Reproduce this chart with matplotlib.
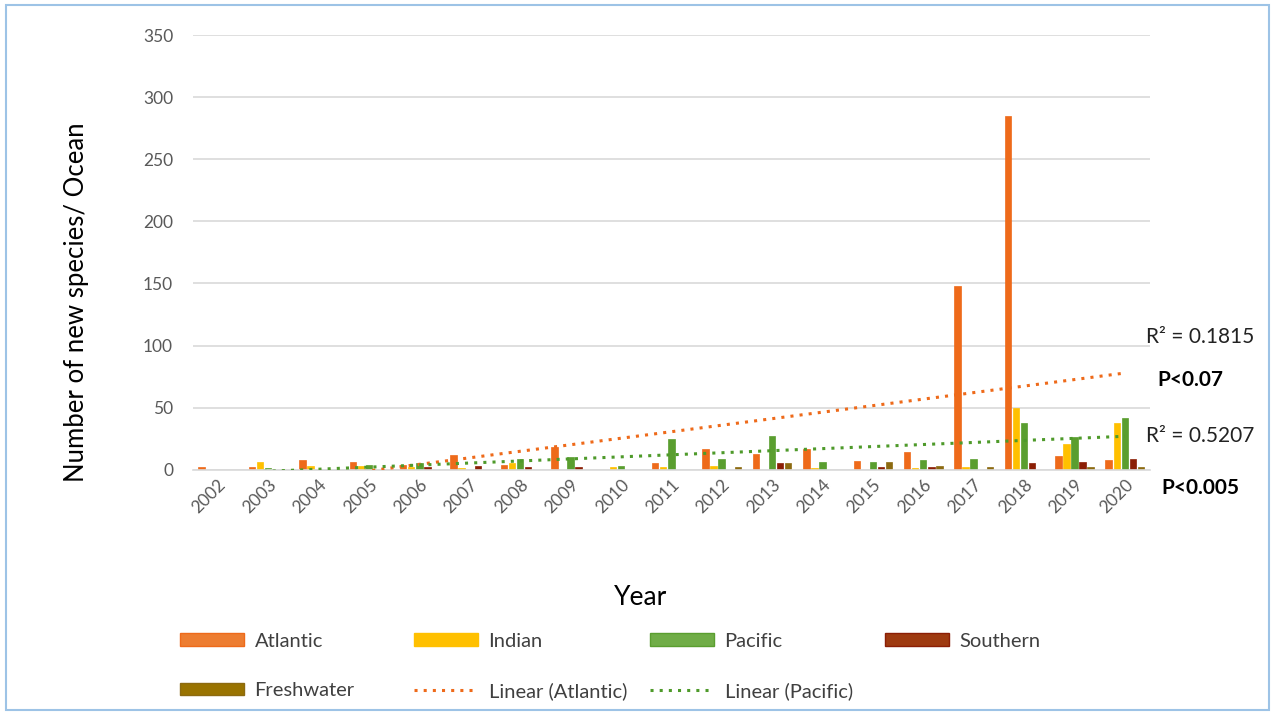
import matplotlib.pyplot as plt
import numpy as np
from matplotlib.patches import Rectangle

plt.rcParams['font.family'] = ['Lato', 'DejaVu Sans']

years = list(range(2002, 2021))
atlantic = [2, 2, 8, 6, 4, 12, 4, 18, 0, 5, 17, 13, 17, 7, 14, 148, 285, 11, 8]
indian = [0, 6, 3, 3, 2, 1, 5, 0, 2, 2, 3, 0, 1, 0, 1, 2, 50, 21, 38]
pacific = [0, 1, 0, 4, 5, 0, 9, 10, 3, 25, 9, 27, 6, 6, 8, 9, 38, 26, 42]
southern = [0, 0, 0, 0, 2, 3, 2, 2, 0, 0, 0, 5, 0, 2, 2, 0, 5, 6, 9]
freshwater = [0, 0, 0, 0, 0, 0, 0, 0, 0, 0, 2, 5, 0, 6, 3, 2, 0, 2, 2]

series = [('Atlantic', atlantic, '#EE6A1A', '#ED7D31'),
          ('Indian', indian, '#FFC000', '#FFC000'),
          ('Pacific', pacific, '#5A9E2F', '#70AD47'),
          ('Southern', southern, '#8B1E05', '#9E3A10'),
          ('Freshwater', freshwater, '#8C6A10', '#997300')]

fig = plt.figure(figsize=(12.75, 7.16), dpi=100)
ax = fig.add_axes([0.151, 0.344, 0.751, 0.607])

x = np.arange(len(years))
w = 0.16
handles = {}
for i, (name, vals, col, lcol) in enumerate(series):
    ax.bar(x + (i - 2) * w, vals, width=w * 0.8, color=col, edgecolor=col, linewidth=0.5, zorder=2)
    handles[name] = Rectangle((0, 0), 1, 1, facecolor=lcol, edgecolor=col)

# linear trend lines
xs = x + 1
ka, ba = np.polyfit(xs, atlantic, 1)
kp, bp = np.polyfit(xs, pacific, 1)
la, = ax.plot(x, ka * xs + ba, ls=(0, (1, 2)), lw=2.2, color='#EE6A1A', zorder=3)
lp, = ax.plot(x, kp * xs + bp, ls=(0, (1, 2)), lw=2.2, color='#4E9A2A', zorder=3)

ax.set_ylim(0, 350)
ax.set_xlim(-0.5, len(years) - 0.5)
ax.set_yticks(range(0, 351, 50))
ax.grid(axis='y', color='#D9D9D9', lw=1.2, zorder=0)
ax.set_axisbelow(True)
for s in ['top', 'right', 'left']:
    ax.spines[s].set_visible(False)
ax.spines['bottom'].set_color('#D9D9D9')
ax.spines['bottom'].set_linewidth(1.2)
ax.tick_params(length=0, labelsize=12.5, colors='#595959', pad=14)
ax.set_xticks(x)
ax.set_xticklabels(years, rotation=45, ha='right', rotation_mode='anchor')
ax.tick_params(axis='x', pad=5)

fig.text(0.06, 0.578, 'Number of new species/ Ocean', rotation=90, fontsize=18.5,
         ha='center', va='center', color='black')
fig.text(0.502, 0.165, 'Year', fontsize=19, ha='center', va='center', color='black')

fig.text(0.899, 0.53, 'R\u00b2 = 0.1815', fontsize=15, color='#222222', va='center')
fig.text(0.908, 0.469, 'P<0.07', fontsize=15, fontweight='bold', va='center')
fig.text(0.899, 0.391, 'R\u00b2 = 0.5207', fontsize=15, color='#222222', va='center')
fig.text(0.911, 0.318, 'P<0.005', fontsize=15, fontweight='bold', va='center')

# legend: four fixed columns like the original
columns = [([handles['Atlantic'], handles['Freshwater']], ['Atlantic', 'Freshwater'], 180),
           ([handles['Indian'], la], ['Indian', 'Linear (Atlantic)'], 414),
           ([handles['Pacific'], lp], ['Pacific', 'Linear (Pacific)'], 650),
           ([handles['Southern']], ['Southern'], 885)]
for hs, ls, px in columns:
    fig.legend(hs, ls, loc='upper left', bbox_to_anchor=(px / 1275, 0.116),
               frameon=False, fontsize=14.5, handlelength=3.2, handleheight=0.6,
               handletextpad=0.5, labelspacing=1.6, borderpad=0, borderaxespad=0,
               labelcolor='#404040')

fig.add_artist(Rectangle((0.005, 0.008), 0.99, 0.985, transform=fig.transFigure,
                         fill=False, edgecolor='#9DC3E6', lw=1.5))

fig.savefig('out.png', dpi=100)
